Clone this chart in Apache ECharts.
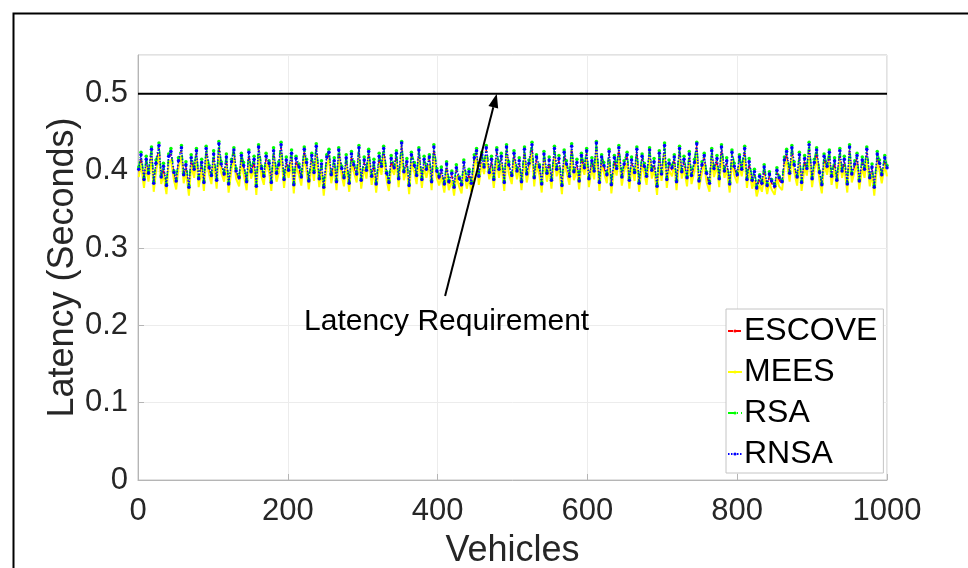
<!DOCTYPE html>
<html>
<head>
<meta charset="utf-8">
<script src="https://cdn.jsdelivr.net/npm/echarts@6/dist/echarts.min.js"></script>
<style>
html,body{margin:0;padding:0;background:#fff;}
#chart{width:968px;height:568px;}
</style>
</head>
<body>
<div id="chart"></div>
<script>
// ---- data (seconds), one value per sampled vehicle ----
const seriesNames = ['ESCOVE', 'MEES', 'RSA', 'RNSA'];
const xTicks = [0, 200, 400, 600, 800, 1000];
const yTicks = [0, 0.1, 0.2, 0.3, 0.4, 0.5];
const latencyRequirement = 0.5;

const escove = [
.399,.418,.386,.412,.394,.425,.381,.407,.430,.389,.403,.378,.416,.422,.395,.384,.410,.427,.392,.405,
.376,.414,.399,.423,.387,.408,.382,.426,.401,.391,.419,.385,.432,.406,.393,.415,.380,.409,.424,.397,
.388,.417,.404,.383,.421,.396,.412,.377,.428,.400,.390,.416,.407,.382,.423,.394,.405,.431,.386,.411,
.398,.420,.379,.413,.402,.389,.425,.408,.384,.417,.395,.429,.387,.406,.376,.415,.421,.392,.410,.383,
.424,.400,.388,.414,.381,.419,.405,.393,.427,.385,.411,.398,.422,.390,.408,.380,.416,.403,.426,.394,
.382,.413,.401,.420,.387,.433,.396,.409,.378,.418,.404,.391,.424,.386,.412,.399,.415,.383,.428,.397,
.389,.398,.380,.406,.383,.394,.376,.401,.387,.379,.408,.385,.396,.381,.414,.423,.390,.418,.402,.427,
.395,.412,.386,.424,.399,.416,.382,.428,.405,.391,.420,.397,.410,.383,.425,.393,.407,.431,.388,.415,
.402,.380,.419,.394,.411,.385,.426,.399,.413,.378,.421,.406,.390,.429,.396,.408,.384,.417,.401,.423,
.387,.410,.397,.433,.382,.415,.404,.392,.422,.379,.414,.400,.427,.389,.406,.418,.385,.411,.395,.425,
.381,.416,.403,.390,.424,.398,.409,.377,.420,.393,.430,.386,.407,.401,.415,.383,.426,.396,.412,.388,
.419,.391,.408,.432,.384,.405,.417,.394,.381,.423,.400,.413,.387,.428,.397,.410,.380,.421,.403,.392,
.415,.399,.426,.386,.409,.385,.396,.375,.390,.381,.402,.378,.393,.384,.377,.398,.388,.383,.411,.422,
.394,.427,.405,.389,.418,.382,.413,.400,.431,.387,.408,.424,.395,.379,.416,.403,.421,.390,.410,.385,
.423,.397,.412,.380,.428,.393,.406,.417,.384,.411,.399,.425,.388,.402,.376,.419,.407,.392,.414,.401];

const mees = [
.392,.410,.378,.406,.386,.419,.373,.399,.422,.383,.395,.370,.410,.414,.388,.376,.403,.420,.384,.399,
.368,.407,.391,.417,.379,.402,.374,.418,.395,.383,.413,.377,.424,.398,.386,.407,.372,.403,.416,.390,
.380,.411,.396,.375,.413,.390,.404,.369,.421,.392,.382,.410,.399,.374,.417,.386,.398,.423,.378,.405,
.391,.412,.371,.407,.394,.381,.419,.400,.376,.411,.387,.421,.379,.400,.368,.407,.415,.384,.404,.375,
.416,.394,.380,.408,.373,.411,.399,.385,.419,.377,.405,.390,.416,.382,.400,.372,.410,.395,.418,.388,
.374,.405,.395,.412,.379,.425,.388,.403,.370,.410,.398,.383,.416,.378,.406,.391,.407,.375,.420,.391,
.381,.392,.372,.398,.375,.388,.368,.393,.379,.371,.400,.377,.390,.373,.406,.417,.382,.410,.396,.419,
.389,.404,.378,.416,.391,.410,.374,.420,.397,.383,.414,.389,.404,.375,.417,.385,.401,.423,.380,.409,
.394,.372,.413,.386,.403,.377,.418,.393,.405,.370,.413,.400,.382,.421,.388,.402,.376,.409,.395,.415,
.379,.404,.389,.425,.374,.407,.398,.384,.416,.371,.406,.394,.419,.381,.400,.410,.377,.405,.387,.417,
.373,.408,.397,.382,.418,.390,.403,.369,.412,.387,.422,.378,.401,.393,.409,.375,.418,.390,.404,.380,
.413,.383,.400,.424,.376,.399,.409,.386,.373,.417,.392,.407,.379,.420,.391,.402,.372,.415,.395,.384,
.407,.393,.418,.378,.403,.377,.388,.367,.382,.373,.394,.370,.385,.376,.369,.390,.380,.375,.405,.414,
.386,.419,.399,.381,.412,.374,.405,.394,.423,.379,.402,.416,.387,.371,.410,.395,.413,.382,.404,.377,
.415,.391,.404,.372,.420,.385,.400,.409,.376,.405,.391,.417,.380,.396,.368,.411,.401,.384,.408,.393];

const rsa = [
.405,.424,.391,.419,.400,.431,.386,.414,.436,.394,.410,.383,.422,.429,.400,.390,.417,.433,.397,.412,
.381,.421,.405,.429,.392,.415,.387,.432,.407,.396,.426,.390,.438,.412,.398,.422,.385,.415,.430,.403,
.393,.423,.411,.388,.427,.401,.419,.382,.434,.406,.395,.423,.413,.387,.430,.399,.412,.437,.391,.418,
.404,.427,.384,.419,.409,.394,.431,.415,.389,.423,.401,.435,.392,.413,.381,.421,.428,.397,.417,.388,
.430,.406,.393,.421,.386,.425,.412,.398,.433,.390,.418,.404,.428,.395,.415,.385,.423,.409,.432,.399,
.387,.420,.407,.426,.392,.438,.401,.416,.383,.424,.411,.396,.430,.391,.419,.405,.421,.388,.434,.403,
.394,.405,.385,.412,.388,.400,.381,.408,.392,.384,.414,.390,.402,.386,.421,.429,.395,.424,.408,.433,
.400,.419,.391,.430,.405,.423,.387,.434,.412,.396,.426,.403,.417,.388,.431,.398,.414,.437,.393,.421,
.408,.385,.425,.399,.418,.390,.432,.405,.420,.383,.427,.413,.395,.435,.401,.415,.389,.423,.407,.429,
.392,.417,.403,.438,.387,.421,.411,.397,.428,.384,.420,.406,.433,.394,.413,.424,.390,.418,.400,.431,
.386,.422,.410,.395,.430,.404,.416,.382,.426,.398,.436,.391,.414,.407,.421,.388,.432,.401,.419,.393,
.425,.396,.415,.437,.389,.412,.423,.399,.386,.429,.406,.420,.392,.434,.403,.417,.385,.427,.410,.397,
.421,.405,.432,.391,.416,.390,.402,.380,.395,.386,.408,.383,.399,.389,.382,.404,.393,.388,.418,.428,
.399,.433,.412,.394,.424,.387,.420,.406,.437,.392,.415,.430,.400,.384,.422,.409,.427,.395,.417,.390,
.429,.403,.419,.385,.434,.398,.413,.423,.389,.418,.405,.431,.393,.409,.381,.425,.414,.397,.420,.407];

const rnsa = [
.402,.421,.389,.415,.397,.428,.384,.410,.433,.392,.406,.381,.419,.425,.398,.387,.413,.430,.395,.408,
.379,.417,.402,.426,.390,.411,.385,.429,.404,.394,.422,.388,.435,.409,.396,.418,.383,.412,.427,.400,
.391,.420,.407,.386,.424,.399,.415,.380,.431,.403,.393,.419,.410,.385,.426,.397,.408,.434,.389,.414,
.401,.423,.382,.416,.405,.392,.428,.411,.387,.420,.398,.432,.390,.409,.379,.418,.424,.395,.413,.386,
.427,.403,.391,.417,.384,.422,.408,.396,.430,.388,.414,.401,.425,.393,.411,.383,.419,.406,.429,.397,
.385,.416,.404,.423,.390,.436,.399,.412,.381,.421,.407,.394,.427,.389,.415,.402,.418,.386,.431,.400,
.392,.401,.383,.409,.386,.397,.379,.404,.390,.382,.411,.388,.399,.384,.417,.426,.393,.421,.405,.430,
.398,.415,.389,.427,.402,.419,.385,.431,.408,.394,.423,.400,.413,.386,.428,.396,.410,.434,.391,.418,
.405,.383,.422,.397,.414,.388,.429,.402,.416,.381,.424,.409,.393,.432,.399,.411,.387,.420,.404,.426,
.390,.413,.400,.436,.385,.418,.407,.395,.425,.382,.417,.403,.430,.392,.409,.421,.388,.414,.398,.428,
.384,.419,.406,.393,.427,.401,.412,.380,.423,.396,.433,.389,.410,.404,.418,.386,.429,.399,.415,.391,
.422,.394,.411,.435,.387,.408,.420,.397,.384,.426,.403,.416,.390,.431,.400,.413,.383,.424,.406,.395,
.418,.402,.429,.389,.412,.388,.399,.378,.393,.384,.405,.381,.396,.387,.380,.401,.391,.386,.414,.425,
.397,.430,.408,.392,.421,.385,.416,.403,.434,.390,.411,.427,.398,.382,.419,.406,.424,.393,.413,.388,
.426,.400,.415,.383,.431,.396,.409,.420,.387,.414,.402,.428,.391,.405,.379,.422,.410,.395,.417,.404];

// sampled vehicle indices (1..1000)
const vehicles = rnsa.map((_, i) => Math.round(1 + i * 999 / (rnsa.length - 1)));

// annotation anchors in data coordinates
const annotationText = 'Latency Requirement';
const arrowTail = [410, 0.238];
const arrowHead = [479, 0.5];
const textAnchor = [412, 0.205];

const FONT = '"Liberation Sans", Arial, Helvetica, sans-serif';
const pair = arr => arr.map((v, i) => [vehicles[i], v]);

const chart = echarts.init(document.getElementById('chart'), null, {renderer: 'canvas'});

const axisCommon = {
  axisLine: {show: true, lineStyle: {color: '#b5b5b5', width: 1}},
  axisTick: {show: true, inside: true, length: 6, lineStyle: {color: '#b5b5b5'}},
  splitLine: {show: true, lineStyle: {color: '#ececec', width: 1}},
  axisLabel: {color: '#262626', fontSize: 31, fontFamily: FONT}
};

const option = {
  animation: false,
  backgroundColor: '#ffffff',
  grid: {left: 138, top: 55, width: 749, height: 425, show: true, borderColor: '#c4c4c4', borderWidth: 1,
    containLabel: false, outerBoundsMode: 'none'},
  xAxis: Object.assign({}, axisCommon, {
    type: 'value', min: 0, max: 1000, interval: 200,
    name: 'Vehicles', nameLocation: 'middle', nameGap: 53, nameMoveOverlap: false,
    nameTextStyle: {color: '#262626', fontSize: 36, fontFamily: FONT},
    axisLabel: Object.assign({}, axisCommon.axisLabel, {margin: 16,
      formatter: v => (xTicks.indexOf(v) >= 0 ? String(v) : '')})
  }),
  yAxis: Object.assign({}, axisCommon, {
    type: 'value', min: 0, max: 0.55, interval: 0.1,
    name: 'Latency (Seconds)', nameLocation: 'middle', nameGap: 57, nameMoveOverlap: false,
    nameTextStyle: {color: '#262626', fontSize: 36, fontFamily: FONT},
    axisLabel: Object.assign({}, axisCommon.axisLabel, {margin: 10, showMaxLabel: false,
      formatter: v => {
        const t = yTicks.find(y => Math.abs(y - v) < 1e-9);
        return t === undefined ? '' : String(t);
      }})
  }),
  legend: {
    data: seriesNames,
    orient: 'vertical',
    left: 726, top: 309,
    padding: [6, 6, 3, 1],
    itemGap: 9,
    itemWidth: 14, itemHeight: 4,
    backgroundColor: '#ffffff',
    borderColor: '#c4c4c4', borderWidth: 1, borderRadius: 0,
    textStyle: {color: '#000000', fontSize: 32, fontFamily: FONT, lineHeight: 32, padding: [0, 0, 0, -3]}
  },
  series: [
    {
      name: 'requirement', type: 'line', data: [[0, latencyRequirement], [1000, latencyRequirement]],
      showSymbol: false, symbol: 'none', lineStyle: {color: '#000000', width: 2}, z: 1, silent: true
    },
    {
      name: 'ESCOVE', type: 'line', data: pair(escove), symbol: 'none', color: '#ff0000',
      lineStyle: {color: '#ff0000', width: 1.5, type: [5, 3]}, z: 2
    },
    {
      name: 'MEES', type: 'line', data: pair(mees), symbol: 'none', color: '#ffff00',
      lineStyle: {color: '#ffff00', width: 2}, z: 3
    },
    {
      name: 'RSA', type: 'line', data: pair(rsa), symbol: 'circle', symbolSize: 3.5, showSymbol: true, showAllSymbol: true, color: '#00ff00',
      itemStyle: {color: '#00ff00', borderWidth: 0},
      lineStyle: {color: '#00ff00', width: 1.5, type: [6, 3, 1, 3]}, z: 4
    },
    {
      name: 'RNSA', type: 'line', data: pair(rnsa), symbol: 'circle', symbolSize: 3.5, showSymbol: true, showAllSymbol: true, color: '#0000ff',
      itemStyle: {color: '#0000ff', borderWidth: 0},
      lineStyle: {color: '#0000ff', width: 1.5, type: [1.5, 1.5]}, z: 5
    }
  ]
};

chart.setOption(option);

// annotation: arrow + label positioned from data coordinates
const tail = chart.convertToPixel({gridIndex: 0}, arrowTail);
const head = chart.convertToPixel({gridIndex: 0}, arrowHead);
const txt = chart.convertToPixel({gridIndex: 0}, textAnchor);
const dx = head[0] - tail[0], dy = head[1] - tail[1];
const len = Math.sqrt(dx * dx + dy * dy);
const ux = dx / len, uy = dy / len;
const hl = 14, hw = 5;
const bx = head[0] - ux * hl, by = head[1] - uy * hl;
const px = -uy, py = ux;

chart.setOption({
  graphic: [
    {type: 'rect', left: 11, top: 11, z: 100, silent: true,
      shape: {width: 1000, height: 620}, style: {fill: 'none', stroke: '#000000', lineWidth: 2}},
    {type: 'line', z: 50, silent: true,
      shape: {x1: tail[0], y1: tail[1], x2: bx, y2: by},
      style: {stroke: '#000000', lineWidth: 2}},
    {type: 'polygon', z: 50, silent: true,
      shape: {points: [[head[0], head[1]], [bx + px * hw, by + py * hw], [bx - px * hw, by - py * hw]]},
      style: {fill: '#000000'}},
    {type: 'text', z: 50, silent: true, x: txt[0], y: txt[1],
      style: {text: annotationText, fill: '#000000', font: '30px ' + FONT, textAlign: 'center', textVerticalAlign: 'middle'}}
  ]
});
</script>
</body>
</html>
